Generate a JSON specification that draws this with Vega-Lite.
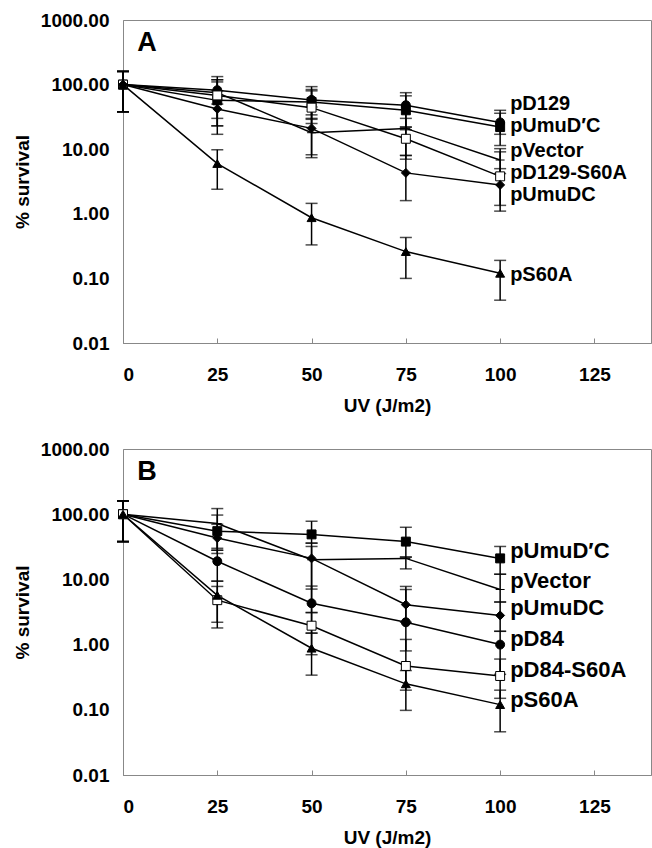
{
  "$schema": "https://vega.github.io/schema/vega-lite/v6.json",
  "padding": {"left": 12, "top": 10, "right": 0, "bottom": 0},
  "background": "white",
  "spacing": 23,
  "config": {
    "font": "Liberation Sans",
    "view": {"stroke": "#888", "strokeWidth": 1},
    "axis": {"labelFont": "Liberation Sans", "labelFontWeight": "bold", "labelFontSize": 19, "labelColor": "black", "titleFont": "Liberation Sans", "titleFontWeight": "bold", "titleFontSize": 19, "titleColor": "black", "domainColor": "#888", "tickColor": "#888", "grid": false}
  },
  "datasets": {
    "pts": [
      {"panel": "A", "series": "pD129", "uv": 0, "surv": 100, "lo": 38, "hi": 160},
      {"panel": "A", "series": "pD129", "uv": 25, "surv": 82, "lo": 50, "hi": 133},
      {"panel": "A", "series": "pD129", "uv": 50, "surv": 58, "lo": 34, "hi": 93},
      {"panel": "A", "series": "pD129", "uv": 75, "surv": 48, "lo": 22, "hi": 75},
      {"panel": "A", "series": "pD129", "uv": 100, "surv": 26, "lo": 17, "hi": 40},
      {"panel": "A", "series": "pUmuD′C", "uv": 0, "surv": 100, "lo": 38, "hi": 160},
      {"panel": "A", "series": "pUmuD′C", "uv": 25, "surv": 57, "lo": 23, "hi": 119},
      {"panel": "A", "series": "pUmuD′C", "uv": 50, "surv": 54, "lo": 29, "hi": 84},
      {"panel": "A", "series": "pUmuD′C", "uv": 75, "surv": 40, "lo": 20, "hi": 67},
      {"panel": "A", "series": "pUmuD′C", "uv": 100, "surv": 22, "lo": 11.4, "hi": 36},
      {"panel": "A", "series": "pVector", "uv": 0, "surv": 100, "lo": 38, "hi": 160},
      {"panel": "A", "series": "pVector", "uv": 25, "surv": 75, "lo": 30, "hi": 119},
      {"panel": "A", "series": "pVector", "uv": 50, "surv": 18, "lo": 7.4, "hi": 30},
      {"panel": "A", "series": "pVector", "uv": 75, "surv": 21, "lo": 8, "hi": 30},
      {"panel": "A", "series": "pVector", "uv": 100, "surv": 6.8, "lo": 4.2, "hi": 10.2},
      {"panel": "A", "series": "pD129-S60A", "uv": 0, "surv": 100, "lo": 38, "hi": 160},
      {"panel": "A", "series": "pD129-S60A", "uv": 25, "surv": 68, "lo": 23, "hi": 110},
      {"panel": "A", "series": "pD129-S60A", "uv": 50, "surv": 44, "lo": 25, "hi": 80},
      {"panel": "A", "series": "pD129-S60A", "uv": 75, "surv": 14.5, "lo": 7, "hi": 22},
      {"panel": "A", "series": "pD129-S60A", "uv": 100, "surv": 3.8, "lo": 1.35, "hi": 9.1},
      {"panel": "A", "series": "pUmuDC", "uv": 0, "surv": 100, "lo": 38, "hi": 160},
      {"panel": "A", "series": "pUmuDC", "uv": 25, "surv": 42, "lo": 17, "hi": 80},
      {"panel": "A", "series": "pUmuDC", "uv": 50, "surv": 21, "lo": 8.2, "hi": 45},
      {"panel": "A", "series": "pUmuDC", "uv": 75, "surv": 4.3, "lo": 1.6, "hi": 8},
      {"panel": "A", "series": "pUmuDC", "uv": 100, "surv": 2.8, "lo": 1.1, "hi": 5},
      {"panel": "A", "series": "pS60A", "uv": 0, "surv": 100, "lo": 38, "hi": 160},
      {"panel": "A", "series": "pS60A", "uv": 25, "surv": 6.0, "lo": 2.4, "hi": 9.8},
      {"panel": "A", "series": "pS60A", "uv": 50, "surv": 0.87, "lo": 0.33, "hi": 1.45},
      {"panel": "A", "series": "pS60A", "uv": 75, "surv": 0.26, "lo": 0.1, "hi": 0.43},
      {"panel": "A", "series": "pS60A", "uv": 100, "surv": 0.12, "lo": 0.046, "hi": 0.19},
      {"panel": "B", "series": "pUmuD′C", "uv": 0, "surv": 100, "lo": 38, "hi": 160},
      {"panel": "B", "series": "pUmuD′C", "uv": 25, "surv": 55, "lo": 28, "hi": 97},
      {"panel": "B", "series": "pUmuD′C", "uv": 50, "surv": 49, "lo": 36, "hi": 78},
      {"panel": "B", "series": "pUmuD′C", "uv": 75, "surv": 38, "lo": 22, "hi": 63},
      {"panel": "B", "series": "pUmuD′C", "uv": 100, "surv": 21, "lo": 12, "hi": 32},
      {"panel": "B", "series": "pVector", "uv": 0, "surv": 100, "lo": 38, "hi": 160},
      {"panel": "B", "series": "pVector", "uv": 25, "surv": 72, "lo": 30, "hi": 122},
      {"panel": "B", "series": "pVector", "uv": 50, "surv": 20, "lo": 7.1, "hi": 32},
      {"panel": "B", "series": "pVector", "uv": 75, "surv": 21, "lo": 14.5, "hi": 22},
      {"panel": "B", "series": "pVector", "uv": 100, "surv": 7, "lo": 4.5, "hi": 12},
      {"panel": "B", "series": "pUmuDC", "uv": 0, "surv": 100, "lo": 38, "hi": 160},
      {"panel": "B", "series": "pUmuDC", "uv": 25, "surv": 43, "lo": 25, "hi": 70},
      {"panel": "B", "series": "pUmuDC", "uv": 50, "surv": 21, "lo": 3.1, "hi": 36},
      {"panel": "B", "series": "pUmuDC", "uv": 75, "surv": 4.1, "lo": 2.2, "hi": 7.8},
      {"panel": "B", "series": "pUmuDC", "uv": 100, "surv": 2.8, "lo": 1.6, "hi": 4.5},
      {"panel": "B", "series": "pD84", "uv": 0, "surv": 100, "lo": 38, "hi": 160},
      {"panel": "B", "series": "pD84", "uv": 25, "surv": 19, "lo": 9.4, "hi": 28},
      {"panel": "B", "series": "pD84", "uv": 50, "surv": 4.3, "lo": 1.5, "hi": 7.9},
      {"panel": "B", "series": "pD84", "uv": 75, "surv": 2.2, "lo": 0.8, "hi": 7},
      {"panel": "B", "series": "pD84", "uv": 100, "surv": 1.0, "lo": 0.35, "hi": 1.6},
      {"panel": "B", "series": "pD84-S60A", "uv": 0, "surv": 100, "lo": 38, "hi": 160},
      {"panel": "B", "series": "pD84-S60A", "uv": 25, "surv": 4.8, "lo": 1.8, "hi": 7.8},
      {"panel": "B", "series": "pD84-S60A", "uv": 50, "surv": 1.95, "lo": 0.7, "hi": 3.1},
      {"panel": "B", "series": "pD84-S60A", "uv": 75, "surv": 0.47, "lo": 0.2, "hi": 1.2},
      {"panel": "B", "series": "pD84-S60A", "uv": 100, "surv": 0.33, "lo": 0.15, "hi": 0.6},
      {"panel": "B", "series": "pS60A", "uv": 0, "surv": 100, "lo": 38, "hi": 160},
      {"panel": "B", "series": "pS60A", "uv": 25, "surv": 5.7, "lo": 2.2, "hi": 9.4},
      {"panel": "B", "series": "pS60A", "uv": 50, "surv": 0.88, "lo": 0.34, "hi": 1.5},
      {"panel": "B", "series": "pS60A", "uv": 75, "surv": 0.25, "lo": 0.098, "hi": 0.4},
      {"panel": "B", "series": "pS60A", "uv": 100, "surv": 0.12, "lo": 0.046, "hi": 0.2}
    ],
    "labels": [
      {"panel": "A", "text": "pD129", "uv": 100, "pos": 50.8},
      {"panel": "A", "text": "pUmuD′C", "uv": 100, "pos": 23.2},
      {"panel": "A", "text": "pVector", "uv": 100, "pos": 9.5},
      {"panel": "A", "text": "pD129-S60A", "uv": 100, "pos": 4.34},
      {"panel": "A", "text": "pUmuDC", "uv": 100, "pos": 1.98},
      {"panel": "A", "text": "pS60A", "uv": 100, "pos": 0.113},
      {"panel": "B", "text": "pUmuD′C", "uv": 100, "pos": 27},
      {"panel": "B", "text": "pVector", "uv": 100, "pos": 9.4},
      {"panel": "B", "text": "pUmuDC", "uv": 100, "pos": 3.6},
      {"panel": "B", "text": "pD84", "uv": 100, "pos": 1.2},
      {"panel": "B", "text": "pD84-S60A", "uv": 100, "pos": 0.41},
      {"panel": "B", "text": "pS60A", "uv": 100, "pos": 0.14}
    ],
    "letters": [
      {"panel": "A", "uv": 3.8, "pos": 440},
      {"panel": "B", "uv": 3.8, "pos": 440}
    ]
  },
  "vconcat": [
    {
      "width": 528,
      "height": 323,
      "layer": [
        {
          "data": {"name": "pts"},
          "transform": [{"filter": "datum.panel === 'A'"}],
          "mark": {"type": "line", "color": "black", "strokeWidth": 1.5},
          "encoding": {
            "x": {"field": "uv", "type": "quantitative", "scale": {"domain": [0, 140]}, "axis": {"values": [0, 25, 50, 75, 100, 125], "title": "UV (J/m2)", "tickSize": -5, "labelPadding": 27, "titlePadding": 12}},
            "y": {"field": "surv", "type": "quantitative", "scale": {"type": "log", "domain": [0.01, 1000]}, "axis": {"values": [0.01, 0.1, 1, 10, 100, 1000], "format": ".2f", "title": "% survival", "ticks": false, "labelPadding": 14, "titlePadding": 8}},
            "detail": {"field": "series"},
            "order": {"field": "uv"}
          }
        },
        {
          "data": {"name": "pts"},
          "transform": [{"filter": "datum.panel === 'A'"}],
          "mark": {"type": "errorbar", "ticks": {"size": 12}, "thickness": 1.5, "color": "black"},
          "encoding": {
            "x": {"field": "uv", "type": "quantitative"},
            "y": {"field": "lo", "type": "quantitative", "title": "% survival"},
            "y2": {"field": "hi"}
          }
        },
        {
          "data": {"name": "pts"},
          "transform": [{"filter": "datum.panel === 'A'"}],
          "mark": {"type": "point", "filled": false, "opacity": 1, "stroke": "black", "strokeWidth": 1, "size": 80},
          "encoding": {
            "x": {"field": "uv", "type": "quantitative"},
            "y": {"field": "surv", "type": "quantitative"},
            "shape": {"field": "series", "type": "nominal", "legend": null, "scale": {"domain": ["pD129", "pD84", "pUmuD′C", "pVector", "pD129-S60A", "pD84-S60A", "pUmuDC", "pS60A"], "range": ["circle", "circle", "square", "stroke", "square", "square", "diamond", "triangle-up"]}},
            "fill": {"field": "series", "type": "nominal", "legend": null, "scale": {"domain": ["pD129", "pD84", "pUmuD′C", "pVector", "pD129-S60A", "pD84-S60A", "pUmuDC", "pS60A"], "range": ["black", "black", "black", "black", "white", "white", "black", "black"]}}
          }
        },
        {
          "data": {"name": "labels"},
          "transform": [{"filter": "datum.panel === 'A'"}],
          "mark": {"type": "text", "align": "left", "baseline": "middle", "dx": 10, "font": "Liberation Sans", "fontWeight": "bold", "fontSize": 20, "color": "black"},
          "encoding": {
            "x": {"field": "uv", "type": "quantitative"},
            "y": {"field": "pos", "type": "quantitative"},
            "text": {"field": "text"}
          }
        },
        {
          "data": {"name": "letters"},
          "transform": [{"filter": "datum.panel === 'A'"}],
          "mark": {"type": "text", "align": "left", "baseline": "middle", "font": "Liberation Sans", "fontWeight": "bold", "fontSize": 27, "color": "black"},
          "encoding": {
            "x": {"field": "uv", "type": "quantitative"},
            "y": {"field": "pos", "type": "quantitative"},
            "text": {"field": "panel"}
          }
        }
      ]
    },
    {
      "width": 528,
      "height": 326,
      "layer": [
        {
          "data": {"name": "pts"},
          "transform": [{"filter": "datum.panel === 'B'"}],
          "mark": {"type": "line", "color": "black", "strokeWidth": 1.5},
          "encoding": {
            "x": {"field": "uv", "type": "quantitative", "scale": {"domain": [0, 140]}, "axis": {"values": [0, 25, 50, 75, 100, 125], "title": "UV (J/m2)", "tickSize": -5, "labelPadding": 27, "titlePadding": 12}},
            "y": {"field": "surv", "type": "quantitative", "scale": {"type": "log", "domain": [0.01, 1000]}, "axis": {"values": [0.01, 0.1, 1, 10, 100, 1000], "format": ".2f", "title": "% survival", "ticks": false, "labelPadding": 14, "titlePadding": 8}},
            "detail": {"field": "series"},
            "order": {"field": "uv"}
          }
        },
        {
          "data": {"name": "pts"},
          "transform": [{"filter": "datum.panel === 'B'"}],
          "mark": {"type": "errorbar", "ticks": {"size": 12}, "thickness": 1.5, "color": "black"},
          "encoding": {
            "x": {"field": "uv", "type": "quantitative"},
            "y": {"field": "lo", "type": "quantitative", "title": "% survival"},
            "y2": {"field": "hi"}
          }
        },
        {
          "data": {"name": "pts"},
          "transform": [{"filter": "datum.panel === 'B'"}],
          "mark": {"type": "point", "filled": false, "opacity": 1, "stroke": "black", "strokeWidth": 1, "size": 80},
          "encoding": {
            "x": {"field": "uv", "type": "quantitative"},
            "y": {"field": "surv", "type": "quantitative"},
            "shape": {"field": "series", "type": "nominal", "legend": null, "scale": {"domain": ["pD129", "pD84", "pUmuD′C", "pVector", "pD129-S60A", "pD84-S60A", "pUmuDC", "pS60A"], "range": ["circle", "circle", "square", "stroke", "square", "square", "diamond", "triangle-up"]}},
            "fill": {"field": "series", "type": "nominal", "legend": null, "scale": {"domain": ["pD129", "pD84", "pUmuD′C", "pVector", "pD129-S60A", "pD84-S60A", "pUmuDC", "pS60A"], "range": ["black", "black", "black", "black", "white", "white", "black", "black"]}}
          }
        },
        {
          "data": {"name": "labels"},
          "transform": [{"filter": "datum.panel === 'B'"}],
          "mark": {"type": "text", "align": "left", "baseline": "middle", "dx": 10, "font": "Liberation Sans", "fontWeight": "bold", "fontSize": 22, "color": "black"},
          "encoding": {
            "x": {"field": "uv", "type": "quantitative"},
            "y": {"field": "pos", "type": "quantitative"},
            "text": {"field": "text"}
          }
        },
        {
          "data": {"name": "letters"},
          "transform": [{"filter": "datum.panel === 'B'"}],
          "mark": {"type": "text", "align": "left", "baseline": "middle", "font": "Liberation Sans", "fontWeight": "bold", "fontSize": 27, "color": "black"},
          "encoding": {
            "x": {"field": "uv", "type": "quantitative"},
            "y": {"field": "pos", "type": "quantitative"},
            "text": {"field": "panel"}
          }
        }
      ]
    }
  ]
}
